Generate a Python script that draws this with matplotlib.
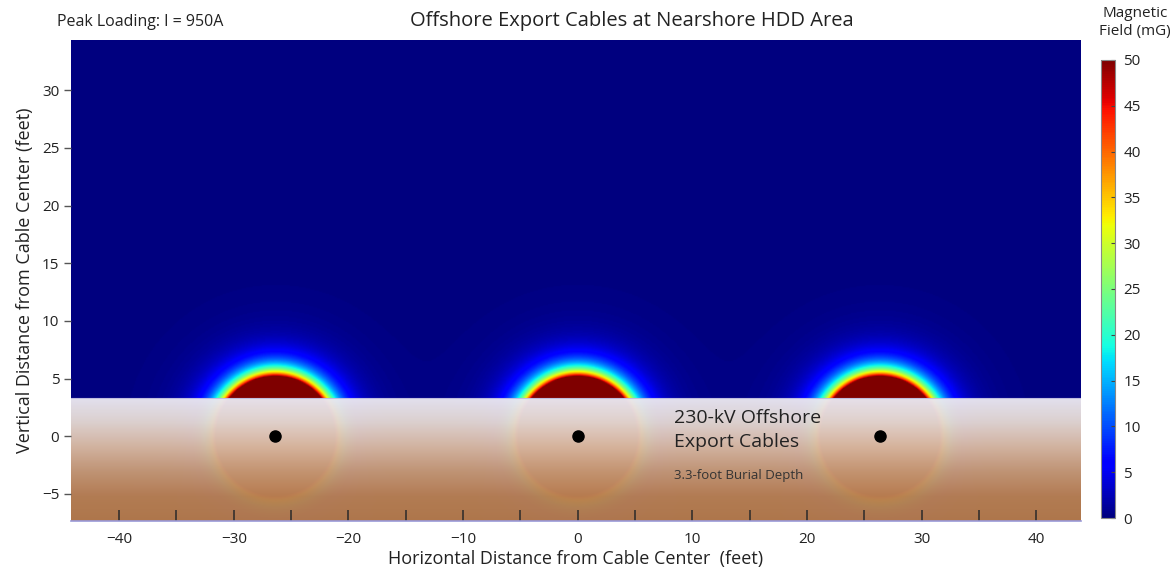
import numpy as np
import matplotlib
matplotlib.use("Agg")
import matplotlib.pyplot as plt
from matplotlib.colors import LinearSegmentedColormap

plt.rcParams["font.family"] = ["Open Sans", "DejaVu Sans"]

# --- data ---
cable_x = [-26.4, 0.0, 26.4]          # feet, horizontal cable centres
cable_y = [0.0, 0.0, 0.0]             # feet, cable depth reference
burial_depth = 3.3                    # feet, seabed surface above cable
field_ref_mG = 50.0                   # field at the reference radius
field_ref_radius = 5.2                # feet
field_decay_power = 6.0               # steep fall-off seen in the contours
x_range = (-44.2, 43.9)
y_range = (-7.35, 34.35)
x_major = list(range(-40, 41, 10))
x_minor = list(range(-40, 41, 5))
y_ticks = list(range(-5, 31, 5))
cbar_ticks = list(range(0, 51, 5))

# soil gradient (top -> bottom)
soil_colors = ["#eae8f2", "#e3d6d0", "#d8b8a0", "#c69874", "#b88052", "#b47a4a"]

# --- field grid ---
xs = np.linspace(x_range[0], x_range[1], 900)
ys = np.linspace(y_range[0], y_range[1], 430)
X, Y = np.meshgrid(xs, ys)
B = np.zeros_like(X)
for cx, cy in zip(cable_x, cable_y):
    r = np.hypot(X - cx, Y - cy)
    r = np.maximum(r, 0.5)
    B += field_ref_mG * (field_ref_radius / r) ** field_decay_power
B = np.clip(B, 0, 50)

fig = plt.figure(figsize=(11.7, 5.69), dpi=100)
ax = fig.add_axes([0.0607, 0.0844, 0.8632, 0.8453])
ax.set_axisbelow(False)

im = ax.imshow(B, extent=[*x_range, *y_range], origin="lower",
               cmap="jet", vmin=0, vmax=50, aspect="auto",
               interpolation="bilinear", zorder=0)

# soil overlay
soil_cmap = LinearSegmentedColormap.from_list("soil", soil_colors)
grad = np.linspace(1, 0, 256).reshape(-1, 1)
ax.imshow(grad, extent=[x_range[0], x_range[1], y_range[0], burial_depth],
          origin="lower", cmap=soil_cmap, aspect="auto", alpha=0.975,
          interpolation="bilinear", zorder=1)
ax.axhline(burial_depth, color="#c0bce0", lw=0.8, zorder=1.5)

ax.plot(cable_x, cable_y, "o", color="black", markersize=8, zorder=4)

ax.set_xlim(*x_range)
ax.set_ylim(*y_range)

ax.set_xticks(x_major)
ax.set_xticks(x_minor, minor=True)
ax.tick_params(axis="x", which="both", direction="in", length=8, width=1.1,
               color="#2a2a2a", labelsize=11, pad=8, labelcolor="#222222")
ax.set_yticks(y_ticks)
ax.tick_params(axis="y", direction="out", length=5, width=1, color="#555555",
               labelsize=11, labelcolor="#222222")

for side in ["left", "top", "right"]:
    ax.spines[side].set_visible(False)
ax.spines["bottom"].set_color("#9a9ad8")
ax.spines["bottom"].set_linewidth(1.2)
ax.spines["bottom"].set_zorder(5)

ax.set_xlabel("Horizontal Distance from Cable Center  (feet)", fontsize=13,
              color="#222222", labelpad=2)
ax.set_ylabel("Vertical Distance from Cable Center (feet)", fontsize=13,
              color="#222222", labelpad=6)

ax.text(8.4, 0.55, "230-kV Offshore\nExport Cables", fontsize=14,
        color="#222222", va="center", ha="left", linespacing=1.4, zorder=5)
ax.text(8.4, -3.45, "3.3-foot Burial Depth", fontsize=9.5, color="#333333",
        va="center", ha="left", zorder=5)

fig.text(0.54, 0.963, "Offshore Export Cables at Nearshore HDD Area",
         fontsize=14.5, ha="center", va="center", color="#222222")
fig.text(0.049, 0.961, "Peak Loading: I = 950A", fontsize=11.5, ha="left",
         va="center", color="#222222")

cax = fig.add_axes([0.941, 0.0896, 0.012, 0.805])
cb = fig.colorbar(im, cax=cax, ticks=cbar_ticks)
cb.outline.set_edgecolor("#888888")
cb.outline.set_linewidth(0.8)
cax.tick_params(direction="in", length=3, labelsize=11, pad=6,
                color="#444444", labelcolor="#222222")
fig.text(0.97, 0.96, "Magnetic\nField (mG)", fontsize=11, ha="center",
         va="center", color="#222222", linespacing=1.25)

fig.savefig("out.png", dpi=100)
